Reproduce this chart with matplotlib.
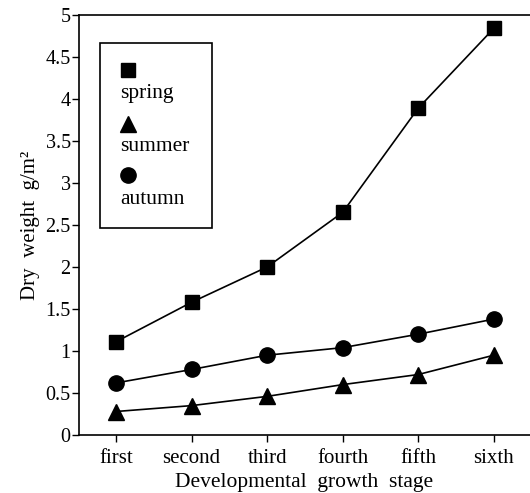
import matplotlib
matplotlib.use("Agg")
import matplotlib.pyplot as plt
from matplotlib.patches import Rectangle

stages = ["first", "second", "third", "fourth", "fifth", "sixth"]
spring = [1.11, 1.58, 2.0, 2.65, 3.89, 4.84]
summer = [0.28, 0.35, 0.46, 0.60, 0.72, 0.95]
autumn = [0.62, 0.78, 0.95, 1.04, 1.20, 1.38]
yticks = [0, 0.5, 1, 1.5, 2, 2.5, 3, 3.5, 4, 4.5, 5]
yticklabels = ["0", "0.5", "1", "1.5", "2", "2.5", "3", "3.5", "4", "4.5", "5"]

plt.rcParams['font.family'] = ['Liberation Serif', 'DejaVu Serif']
fig = plt.figure(figsize=(5.30, 4.93), dpi=100)
ax = fig.add_axes([0.149, 0.1176, 0.851, 0.852])
x = list(range(1, len(stages) + 1))
ax.plot(x, spring, color='black', lw=1.2, marker='s', ms=9.5, clip_on=False)
ax.plot(x, summer, color='black', lw=1.2, marker='^', ms=11, clip_on=False)
ax.plot(x, autumn, color='black', lw=1.2, marker='o', ms=11, clip_on=False)

ax.set_xlim(0.51, 6.48)
ax.set_ylim(0, 5)
ax.set_xticks(x)
ax.set_xticklabels(stages, fontsize=15)
ax.set_yticks(yticks)
ax.set_yticklabels(yticklabels, fontsize=14.5)
ax.tick_params(axis='y', direction='out', length=5, width=1, color='black', pad=1)
ax.tick_params(axis='x', direction='out', length=5, width=1, color='black', pad=5)
ax.spines['right'].set_visible(False)
for s in ['left', 'top', 'bottom']:
    ax.spines[s].set_linewidth(1.2)
ax.set_xlabel("Developmental  growth  stage", fontsize=15.5, labelpad=4)
ax.set_ylabel("Dry  weight  g/m\u00b2", fontsize=15, labelpad=4)

# legend box
ax.add_patch(Rectangle((0.047, 0.493), 0.248, 0.44, transform=ax.transAxes,
                       fill=False, lw=1.2, ec='black'))
leg = [("s", 9.5, 0.869, "spring", 0.814), ("^", 11, 0.74, "summer", 0.686),
       ("o", 11, 0.619, "autumn", 0.56)]
for m, ms, my, lab, ty in leg:
    ax.plot([0.109], [my], marker=m, ms=ms, color='black', transform=ax.transAxes)
    ax.text(0.092, ty, lab, transform=ax.transAxes, fontsize=15.5, va='center', ha='left')

fig.savefig("out.png", dpi=100)
